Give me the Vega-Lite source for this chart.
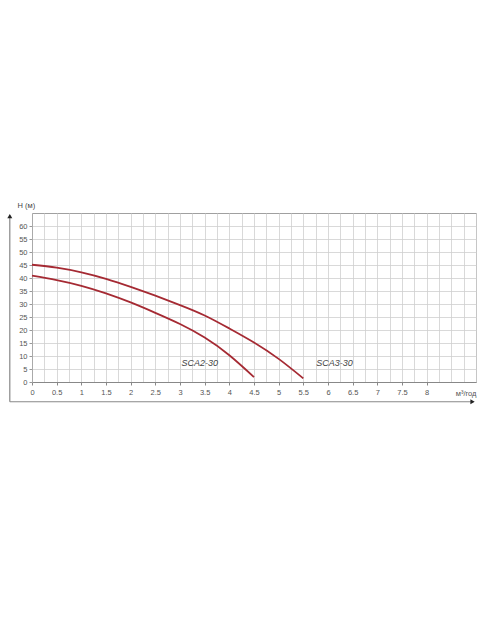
{
  "$schema": "https://vega.github.io/schema/vega-lite/v6.json",
  "autosize": {"type": "none"},
  "width": 444,
  "height": 169,
  "padding": {"left": 32, "top": 213, "right": 11, "bottom": 248},
  "background": "white",
  "config": {
    "font": "Liberation Sans",
    "view": {"stroke": "#a0a0a0", "strokeWidth": 1}
  },
  "datasets": {
    "curves": [
      {"model": "SCA3-30", "q": 0, "h": 45.1},
      {"model": "SCA3-30", "q": 0.5, "h": 44.0},
      {"model": "SCA3-30", "q": 1, "h": 42.2},
      {"model": "SCA3-30", "q": 1.5, "h": 39.7},
      {"model": "SCA3-30", "q": 2, "h": 36.6},
      {"model": "SCA3-30", "q": 2.5, "h": 33.2},
      {"model": "SCA3-30", "q": 3, "h": 29.6},
      {"model": "SCA3-30", "q": 3.5, "h": 25.6},
      {"model": "SCA3-30", "q": 4, "h": 20.6},
      {"model": "SCA3-30", "q": 4.5, "h": 15.2},
      {"model": "SCA3-30", "q": 5, "h": 8.9},
      {"model": "SCA3-30", "q": 5.5, "h": 1.4},
      {"model": "SCA2-30", "q": 0, "h": 40.9},
      {"model": "SCA2-30", "q": 0.5, "h": 39.2},
      {"model": "SCA2-30", "q": 1, "h": 37.0},
      {"model": "SCA2-30", "q": 1.5, "h": 34.1},
      {"model": "SCA2-30", "q": 2, "h": 30.6},
      {"model": "SCA2-30", "q": 2.5, "h": 26.6},
      {"model": "SCA2-30", "q": 3, "h": 22.3},
      {"model": "SCA2-30", "q": 3.5, "h": 17.1},
      {"model": "SCA2-30", "q": 4, "h": 10.3},
      {"model": "SCA2-30", "q": 4.5, "h": 1.9}
    ],
    "labels": [
      {"label": "SCA2-30", "q": 3.4, "h": 7.5},
      {"label": "SCA3-30", "q": 6.13, "h": 7.5}
    ]
  },
  "resolve": {"axis": {"x": "independent", "y": "independent"}},
  "layer": [
    {
      "data": {"name": "curves"},
      "mark": {"type": "line", "interpolate": "natural", "color": "#a52a33", "strokeWidth": 1.8},
      "encoding": {
        "x": {
          "field": "q",
          "type": "quantitative",
          "scale": {"domain": [0, 9], "nice": false, "zero": false},
          "axis": {
            "orient": "bottom",
            "values": [0, 0.25, 0.5, 0.75, 1, 1.25, 1.5, 1.75, 2, 2.25, 2.5, 2.75, 3, 3.25, 3.5, 3.75, 4, 4.25, 4.5, 4.75, 5, 5.25, 5.5, 5.75, 6, 6.25, 6.5, 6.75, 7, 7.25, 7.5, 7.75, 8, 8.25, 8.5, 8.75, 9],
            "labelExpr": "datum.value % 0.5 == 0 && datum.value <= 8 ? '' + datum.value : ''",
            "grid": true,
            "gridColor": "#cfcfcf",
            "gridWidth": 0.8,
            "domainColor": "#888",
            "tickColor": "#888",
            "tickSize": 3,
            "tickOpacity": {"condition": {"test": "datum.value % 0.5 == 0 && datum.value <= 8", "value": 1}, "value": 0},
            "labelFontSize": 7.5,
            "labelColor": "#555",
            "labelPadding": 3,
            "labelFlush": false,
            "labelOverlap": false,
            "title": "м³/год",
            "titleFontSize": 7.5,
            "titleFontWeight": "normal",
            "titleColor": "#555",
            "titleX": 444,
            "titleY": 11,
            "titleAlign": "right",
            "titleBaseline": "middle",
            "titleAnchor": "end"
          }
        },
        "y": {
          "field": "h",
          "type": "quantitative",
          "scale": {"domain": [0, 65], "nice": false},
          "axis": {
            "orient": "left",
            "values": [0, 5, 10, 15, 20, 25, 30, 35, 40, 45, 50, 55, 60],
            "grid": true,
            "gridColor": "#cfcfcf",
            "gridWidth": 0.8,
            "domainColor": "#aaa",
            "tickColor": "#999",
            "tickSize": 3,
            "labelFontSize": 7.5,
            "labelColor": "#555",
            "labelPadding": 2,
            "labelOverlap": false,
            "title": "H (м)",
            "titleAngle": 0,
            "titleFontSize": 7.5,
            "titleFontWeight": "normal",
            "titleColor": "#444",
            "titleX": -15,
            "titleY": -4,
            "titleAlign": "left",
            "titleBaseline": "bottom"
          }
        },
        "detail": {"field": "model", "type": "nominal"}
      }
    },
    {
      "data": {"name": "labels"},
      "mark": {"type": "text", "fontSize": 9, "fontStyle": "italic", "color": "#444"},
      "encoding": {
        "x": {"field": "q", "type": "quantitative", "axis": null},
        "y": {"field": "h", "type": "quantitative", "axis": null},
        "text": {"field": "label"}
      }
    },
    {
      "data": {"values": [{}]},
      "mark": {"type": "rule", "color": "#888", "strokeWidth": 1.2},
      "encoding": {
        "x": {"datum": -0.45, "type": "quantitative", "axis": null},
        "y": {"datum": -7.6, "type": "quantitative", "axis": null},
        "y2": {"datum": 64}
      }
    },
    {
      "data": {"values": [{}]},
      "mark": {"type": "rule", "color": "#888", "strokeWidth": 1.2},
      "encoding": {
        "x": {"datum": -0.45, "type": "quantitative", "axis": null},
        "x2": {"datum": 8.9},
        "y": {"datum": -7.6, "type": "quantitative", "axis": null}
      }
    },
    {
      "data": {"values": [{}]},
      "mark": {"type": "point", "shape": "triangle-up", "filled": true, "color": "#222", "size": 25, "opacity": 1},
      "encoding": {
        "x": {"datum": -0.45, "type": "quantitative", "axis": null},
        "y": {"datum": 63.8, "type": "quantitative", "axis": null}
      }
    },
    {
      "data": {"values": [{}]},
      "mark": {"type": "point", "shape": "triangle-right", "filled": true, "color": "#222", "size": 25, "opacity": 1},
      "encoding": {
        "x": {"datum": 8.93, "type": "quantitative", "axis": null},
        "y": {"datum": -7.6, "type": "quantitative", "axis": null}
      }
    }
  ]
}
